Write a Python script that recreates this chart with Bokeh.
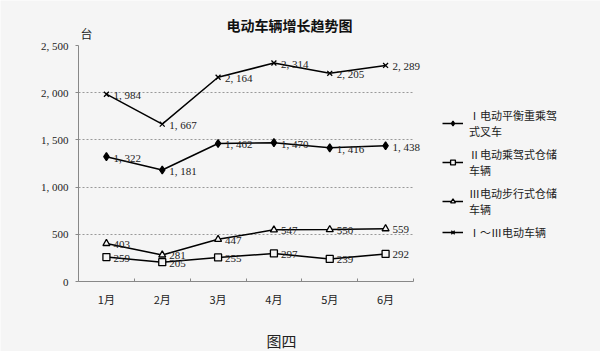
from bokeh.plotting import figure
from bokeh.models import (ColumnDataSource, Range1d, FixedTicker, Legend, LegendItem, Label, Grid)
from bokeh.embed import file_html
from bokeh.resources import INLINE
from bokeh.core.properties import value

months = ["1月", "2月", "3月", "4月", "5月", "6月"]
series_names = ["Ⅰ电动平衡重乘驾\n式叉车", "Ⅱ电动乘驾式仓储\n车辆", "Ⅲ电动步行式仓储\n车辆", "Ⅰ～Ⅲ电动车辆"]
s1 = [1322, 1181, 1462, 1470, 1416, 1438]
s2 = [259, 205, 255, 297, 239, 292]
s3 = [403, 281, 447, 547, 550, 559]
s4 = [1984, 1667, 2164, 2314, 2205, 2289]
y_ticks = [0, 500, 1000, 1500, 2000, 2500]
y_tick_labels = ["0", "500", "1, 000", "1, 500", "2, 000", "2, 500"]

BG = "#f5f5f5"
SERIF = "Liberation Serif"
CJK = "Noto Sans CJK SC"

W, H = 600, 351
# pixel layout of the plotting area inside the canvas
PX_L, PX_R, PX_T, PX_B = 78, 413, 45, 281
n = len(months)
ymax = y_ticks[-1]
ux = (PX_R - PX_L) / n
uy = ymax / (PX_B - PX_T)

xs = [i + 0.5 for i in range(n)]

p = figure(width=W, height=H, output_backend="svg", toolbar_location=None,
           x_range=Range1d(-PX_L / ux, (W - PX_L) / ux),
           y_range=Range1d(-(H - PX_B) * uy, ymax + PX_T * uy),
           min_border=0)
p.background_fill_color = BG
p.border_fill_color = BG
p.outline_line_color = None

# axes
p.xaxis.fixed_location = 0
p.xaxis.bounds = (0, n)
p.xaxis.ticker = FixedTicker(ticks=xs, minor_ticks=list(range(n + 1)))
p.xaxis.major_label_overrides = {x: m for x, m in zip(xs, months)}
p.xaxis.major_tick_in = 0
p.xaxis.major_tick_out = 0
p.xaxis.minor_tick_in = 3
p.xaxis.minor_tick_out = 0
p.xaxis.minor_tick_line_color = "#888888"
p.xaxis.axis_line_color = "#888888"
p.xaxis.major_label_text_font = CJK
p.xaxis.major_label_text_font_size = "11px"
p.xaxis.major_label_text_color = "#222222"
p.xaxis.major_label_standoff = 9

p.yaxis.fixed_location = 0
p.yaxis.bounds = (0, ymax)
p.yaxis.ticker = FixedTicker(ticks=y_ticks)
p.yaxis.major_label_overrides = {t: l for t, l in zip(y_ticks, y_tick_labels)}
p.yaxis.major_tick_in = 0
p.yaxis.major_tick_out = 3
p.yaxis.minor_tick_line_color = None
p.yaxis.major_tick_line_color = "#888888"
p.yaxis.axis_line_color = "#888888"
p.yaxis.major_label_text_font = SERIF
p.yaxis.major_label_text_font_size = "11px"
p.yaxis.major_label_text_color = "#222222"
p.yaxis.major_label_standoff = 7

p.xgrid.grid_line_color = None
p.ygrid.ticker = FixedTicker(ticks=y_ticks[1:-1])
p.ygrid.grid_line_color = "#999999"
p.ygrid.grid_line_dash = "2 2"
p.ygrid.grid_line_width = 1
if "cross_bounds" in Grid.properties():
    p.ygrid.cross_bounds = (0, n)
else:
    p.ygrid.grid_line_color = None
    p.segment(x0=[0] * (len(y_ticks) - 2), x1=[n] * (len(y_ticks) - 2),
              y0=y_ticks[1:-1], y1=y_ticks[1:-1], line_color="#999999",
              line_dash="2 2", line_width=1)

def fmt(v):
    return f"{v:,}".replace(",", ", ")

items = []
specs = [
    (s1, "diamond", 8, "black"),
    (s2, "square", 7, BG),
    (s3, "triangle", 7, BG),
    (s4, "x", 7, "black"),
]
for name, (vals, marker, size, fill) in zip(series_names, specs):
    src = ColumnDataSource(dict(x=xs, y=vals, lab=[fmt(v) for v in vals]))
    ln = p.line("x", "y", source=src, line_color="black", line_width=1.5)
    sc = p.scatter("x", "y", source=src, marker=marker, size=size,
                   line_color="black", fill_color=fill, line_width=1.3)
    p.text("x", "y", text="lab", source=src, x_offset=7, y_offset=1,
           text_baseline="middle", text_align="left",
           text_font=value(SERIF), text_font_size="11px", text_color="#222222")
    items.append(LegendItem(label=name, renderers=[ln, sc]))

legend = Legend(items=items, location=(442, 111), orientation="vertical",
                glyph_width=21, glyph_height=12, label_standoff=6, spacing=7,
                padding=0, margin=0, border_line_color=None, background_fill_alpha=0,
                label_text_font=CJK, label_text_font_size="11px",
                label_text_color="#222222", label_height=12)
p.add_layout(legend, "center")

p.add_layout(Label(x=289, y=H - 24, x_units="screen", y_units="screen", text="电动车辆增长趋势图",
                   text_align="center", text_baseline="middle", text_font=CJK,
                   text_font_size="14px", text_font_style="bold", text_color="#111111"))
p.add_layout(Label(x=80, y=H - 33, x_units="screen", y_units="screen", text="台",
                   text_align="left", text_baseline="middle", text_font=CJK,
                   text_font_size="12px", text_color="#222222"))
p.add_layout(Label(x=281, y=H - 340, x_units="screen", y_units="screen", text="图四",
                   text_align="center", text_baseline="middle", text_font=CJK,
                   text_font_size="15px", text_color="#222222"))

open("out.html", "w").write(file_html(p, INLINE))
